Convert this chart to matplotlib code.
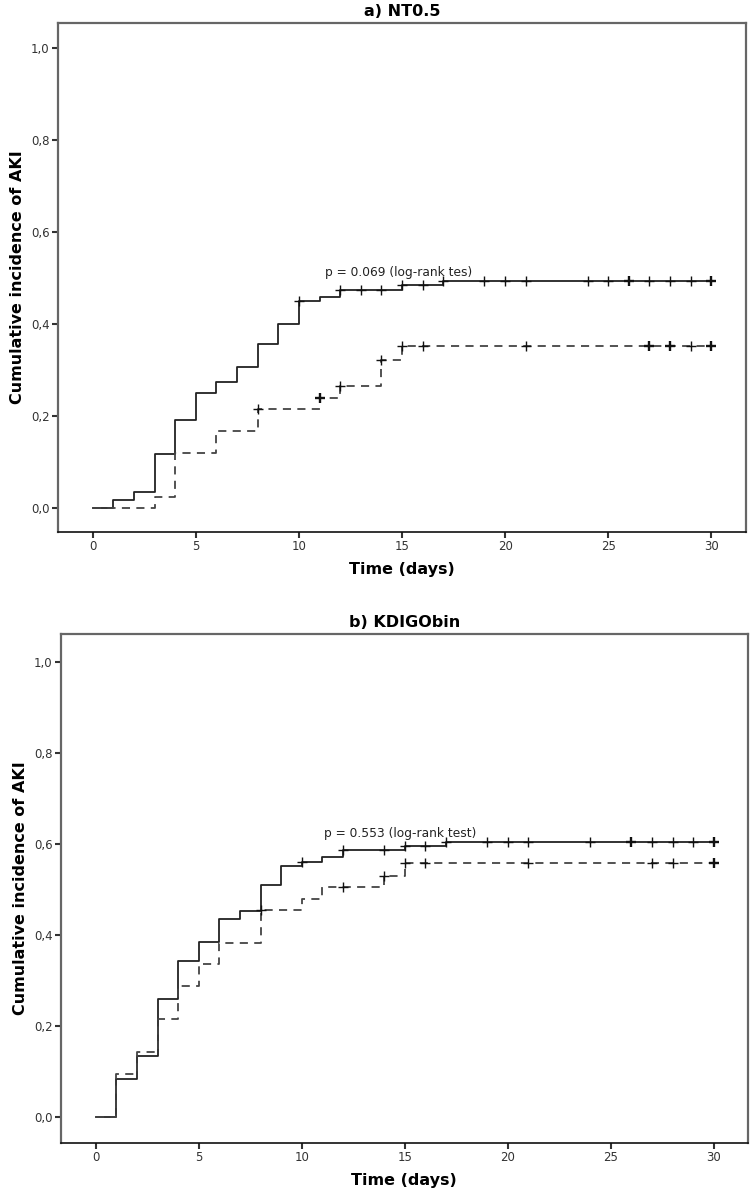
import numpy as np
import matplotlib
matplotlib.use("Agg")
import matplotlib.pyplot as plt

# ---------------------------------------------
# data (step curves + censor marks)
# ---------------------------------------------
a_solid_t = [0, 1, 2, 3, 4, 5, 6, 7, 8, 9, 10, 11, 12, 15, 17, 30]
a_solid_y = [0.0, 0.018, 0.035, 0.118, 0.191, 0.249, 0.274, 0.307, 0.357, 0.399,
             0.449, 0.458, 0.474, 0.484, 0.493, 0.493]
a_solid_cens = [10, 12, 13, 14, 15, 16, 17, 19, 20, 21, 24, 25, 26, 27, 28, 29, 30]
a_solid_bold = [26, 30]

a_dash_t = [0, 3, 4, 6, 8, 11, 12, 14, 15, 30]
a_dash_y = [0.0, 0.024, 0.120, 0.167, 0.214, 0.238, 0.265, 0.321, 0.351, 0.351]
a_dash_cens = [8, 11, 12, 14, 15, 16, 21, 27, 28, 29, 30]
a_dash_bold = [11, 27, 28, 30]

b_solid_t = [0, 1, 2, 3, 4, 5, 6, 7, 8, 9, 10, 11, 12, 15, 17, 30]
b_solid_y = [0.0, 0.083, 0.134, 0.259, 0.343, 0.385, 0.435, 0.453, 0.509, 0.552,
             0.560, 0.571, 0.587, 0.596, 0.604, 0.604]
b_solid_cens = [10, 12, 14, 15, 16, 17, 19, 20, 21, 24, 26, 27, 28, 29, 30]
b_solid_bold = [26, 30]

b_dash_t = [0, 1, 2, 3, 4, 5, 6, 8, 10, 11, 14, 15, 30]
b_dash_y = [0.0, 0.095, 0.142, 0.215, 0.288, 0.336, 0.383, 0.455, 0.479, 0.505,
            0.530, 0.559, 0.559]
b_dash_cens = [8, 12, 14, 15, 16, 21, 27, 28, 30]
b_dash_bold = [30]

y_ticks = [0.0, 0.2, 0.4, 0.6, 0.8, 1.0]
y_ticklabels = ["0,0", "0,2", "0,4", "0,6", "0,8", "1,0"]
x_ticks = [0, 5, 10, 15, 20, 25, 30]


def step_val(ts, ys, t):
    idx = np.searchsorted(ts, t, side="right") - 1
    return ys[idx]


def draw_km(ax, ts, ys, cens, bold, style, color):
    ax.step(ts, ys, where="post", color=color, lw=1.3, linestyle=style)
    for c in cens:
        mew = 1.7 if c in bold else 1.0
        ax.plot(c, step_val(ts, ys, c), marker="+", ms=7, mew=mew, color="#111111",
                linestyle="none")


def style_ax(ax, title, xlim, ylim):
    ax.set_xlim(*xlim)
    ax.set_ylim(*ylim)
    ax.set_xticks(x_ticks)
    ax.set_yticks(y_ticks)
    ax.set_yticklabels(y_ticklabels)
    ax.tick_params(direction="out", length=4, width=1.5, labelsize=8.5,
                   colors="#333333", pad=2)
    for side in ["top", "left", "right"]:
        ax.spines[side].set_color("#666666")
        ax.spines[side].set_linewidth(1.6)
    ax.spines["bottom"].set_color("#111111")
    ax.spines["bottom"].set_linewidth(1.2)
    ax.set_title(title, fontsize=11.5, fontweight="bold", pad=5)
    ax.set_xlabel("Time (days)", fontsize=11.5, fontweight="bold", labelpad=6)
    ax.set_ylabel("Cumulative incidence of AKI", fontsize=11.5, fontweight="bold",
                  labelpad=4)


fig = plt.figure(figsize=(7.5, 11.98), dpi=100)
ax1 = fig.add_axes([0.077, 0.556, 0.918, 0.425])
ax2 = fig.add_axes([0.081, 0.046, 0.916, 0.425])

dash = (0, (4.5, 3.5))

draw_km(ax1, a_solid_t, a_solid_y, a_solid_cens, a_solid_bold, "-", "#222222")
draw_km(ax1, a_dash_t, a_dash_y, a_dash_cens, a_dash_bold, dash, "#444444")
ax1.text(11.25, 0.504, "p = 0.069 (log-rank tes)", fontsize=8.8, color="#222222",
         va="baseline")
style_ax(ax1, "a) NT0.5", (-1.7, 31.7), (-0.052, 1.054))

draw_km(ax2, b_solid_t, b_solid_y, b_solid_cens, b_solid_bold, "-", "#222222")
draw_km(ax2, b_dash_t, b_dash_y, b_dash_cens, b_dash_bold, dash, "#444444")
ax2.text(11.1, 0.615, "p = 0.553 (log-rank test)", fontsize=8.8, color="#222222",
         va="baseline")
style_ax(ax2, "b) KDIGObin", (-1.7, 31.65), (-0.057, 1.062))

fig.savefig("out.png", dpi=100)
